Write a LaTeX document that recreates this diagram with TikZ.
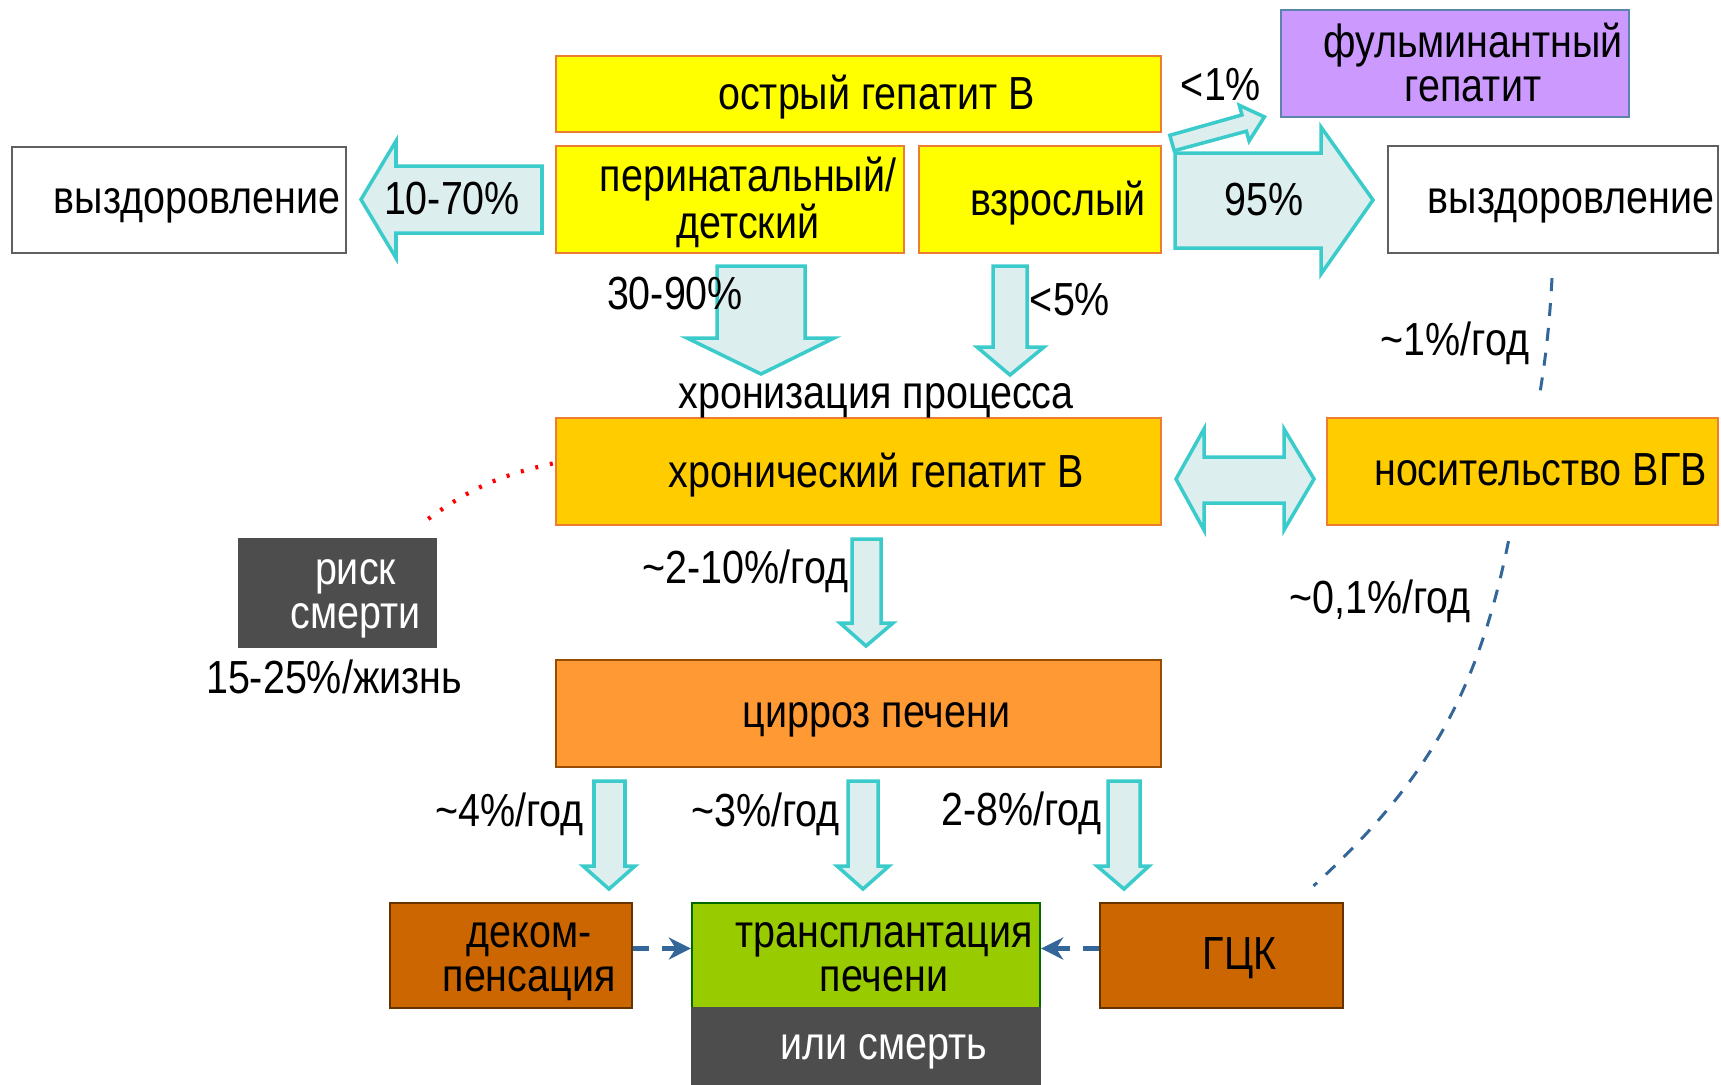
\documentclass[tikz,border=0pt]{standalone}
\usepackage{fontspec}
\setmainfont{Liberation Sans}[FakeStretch=0.85]
\usepackage{xcolor}
\usetikzlibrary{arrows.meta,calc}

\definecolor{acuteyellow}{HTML}{FFFF00}
\definecolor{chronicgold}{HTML}{FFCC00}
\definecolor{cirrhorange}{HTML}{FF9933}
\definecolor{endbrown}{HTML}{CC6600}
\definecolor{livergreen}{HTML}{99CC00}
\definecolor{fulmlilac}{HTML}{CC99FF}
\definecolor{darkbox}{HTML}{4D4D4D}
\definecolor{boxorange}{HTML}{ED7D31}
\definecolor{arrowfill}{HTML}{DCEFEE}
\definecolor{arrowline}{HTML}{3CCBCB}
\definecolor{linkblue}{HTML}{336699}

\newcommand{\boxtext}[1]{\hspace*{0.36cm}\raisebox{-0.05cm}[\height][\depth]{\begin{tabular}{@{}c@{}}#1\end{tabular}}}

\begin{document}
\begin{tikzpicture}[x=0.01cm, y=-0.01cm, font=\fontsize{13.2}{12.5}\selectfont,
    box/.style={draw, line width=0.6pt, inner sep=0pt},
    lbl/.style={inner sep=0pt},
    blockarrow/.style={draw=arrowline, fill=arrowfill, line width=1pt},
    link/.style={draw=linkblue, line width=0.85pt, dash pattern=on 3.7pt off 3.4pt},
    shortlink/.style={draw=linkblue, line width=1.2pt, dash pattern=on 4.5pt off 3.7pt,
        -{Stealth[length=0.22cm, width=0.22cm, inset=0.07cm]}}]
    \useasboundingbox[fill=white] (0,0) rectangle (1721,1084);

    % Acute hepatitis and its forms
    \node[box, fill=acuteyellow, draw=boxorange, minimum width=6.05cm, minimum height=0.76cm] (acute) at (858.5,94) {\boxtext{острый гепатит В}};
    \node[box, fill=acuteyellow, draw=boxorange, minimum width=3.48cm, minimum height=1.07cm] (perinatal) at (730,199.5) {\boxtext{перинатальный/\\детский}};
    \node[box, fill=acuteyellow, draw=boxorange, minimum width=2.42cm, minimum height=1.07cm] (adult) at (1040,199.5) {\boxtext{взрослый}};
    \node[box, fill=white, draw=gray!75!black, minimum width=3.34cm, minimum height=1.06cm] (recovleft) at (179,200) {\boxtext{выздоровление}};
    \node[box, fill=white, draw=gray!75!black, minimum width=3.30cm, minimum height=1.07cm] (recovright) at (1553,199.5) {\boxtext{выздоровление}};
    \node[box, fill=fulmlilac, draw=linkblue!80, minimum width=3.48cm, minimum height=1.07cm] (fulminant) at (1455,63.5) {\boxtext{фульминантный\\гепатит}};

    % Chronic stage
    \node[box, fill=chronicgold, draw=boxorange, minimum width=6.05cm, minimum height=1.07cm] (chronic) at (858.5,471.5) {\boxtext{хронический гепатит В}};
    \node[box, fill=chronicgold, draw=boxorange, minimum width=3.91cm, minimum height=1.07cm] (carrier) at (1522.5,471.5) {\boxtext{носительство ВГВ}};
    \node[box, fill=darkbox, draw=darkbox, text=white, minimum width=1.97cm, minimum height=1.08cm] (risk) at (337.5,593) {\boxtext{риск\\смерти}};
    \node[box, fill=cirrhorange, draw=orange!60!black, minimum width=6.05cm, minimum height=1.07cm] (cirrh) at (858.5,713.5) {\boxtext{цирроз печени}};

    % Outcomes
    \node[box, fill=endbrown, draw=endbrown!50!black, minimum width=2.42cm, minimum height=1.05cm] (decomp) at (511,955.5) {\boxtext{деком-\\пенсация}};
    \node[box, fill=livergreen, draw=green!40!black, minimum width=3.48cm, minimum height=1.05cm] (transpl) at (866,955.5) {\boxtext{трансплантация\\печени}};
    \node[box, fill=darkbox, draw=darkbox, text=white, minimum width=3.48cm, minimum height=0.76cm] (death) at (866,1046) {\boxtext{или смерть}};
    \node[box, fill=endbrown, draw=endbrown!50!black, minimum width=2.43cm, minimum height=1.05cm] (hcc) at (1221.5,955.5) {\boxtext{ГЦК}};

    % Block arrows
    \draw[blockarrow] (542,166) -- (542,233) -- (396,233) -- (396,258) -- (361,199.5) -- (396,141) -- (396,166) -- cycle;
    \draw[blockarrow] (1169.8,135.3) -- (1242,114.9) -- (1239.3,105.3) -- (1264.4,116.9) -- (1249.1,140.9) -- (1246.4,131.2) -- (1174.2,150.7) -- cycle;
    \draw[blockarrow] (1175,153) -- (1321,153) -- (1321,127) -- (1373,200) -- (1321,274) -- (1321,248) -- (1175,248) -- cycle;
    \draw[blockarrow] (717,266) -- (805,266) -- (805,338) -- (834,338) -- (761,374) -- (687,338) -- (717,338) -- cycle;
    \draw[blockarrow] (993,266) -- (1027,266) -- (1027,347) -- (1044,347) -- (1010,375) -- (977,347) -- (993,347) -- cycle;
    \draw[blockarrow] (1176,479) -- (1204,429) -- (1204,457) -- (1284,457) -- (1284,429) -- (1314,479) -- (1284,530) -- (1284,503) -- (1204,503) -- (1204,530) -- cycle;
    \draw[blockarrow] (852,539) -- (881,539) -- (881,623) -- (893,623) -- (866,646) -- (840,623) -- (852,623) -- cycle;
    \draw[blockarrow] (594,781) -- (625,781) -- (625,866) -- (635,866) -- (609,889) -- (583,866) -- (594,866) -- cycle;
    \draw[blockarrow] (848,781) -- (878,781) -- (878,866) -- (889,866) -- (863,889) -- (837,866) -- (848,866) -- cycle;
    \draw[blockarrow] (1108,781) -- (1140,781) -- (1140,866) -- (1149,866) -- (1124,889) -- (1097,866) -- (1108,866) -- cycle;

    % Rates
    \node[lbl] (p1070) at (452,199) {10-70\%};
    \node[lbl] (p1) at (1221,85) {<1\%};
    \node[lbl] (p95) at (1264,200) {95\%};
    \node[lbl] (p3090) at (675,294) {30-90\%};
    \node[lbl] (p5) at (1070,300) {<5\%};
    \node[lbl, anchor=base] (chronization) at (876,408) {хронизация процесса};
    \node[lbl, anchor=base] (p1yr) at (1455,355) {\textasciitilde1\%/год};
    \node[lbl, anchor=base] (p210) at (745.5,583) {\textasciitilde2-10\%/год};
    \node[lbl, anchor=base] (p01) at (1380,613) {\textasciitilde0,1\%/год};
    \node[lbl, anchor=base] (life) at (334,693) {15-25\%/жизнь};
    \node[lbl, anchor=base] (p4) at (509.5,826) {\textasciitilde4\%/год};
    \node[lbl, anchor=base] (p3) at (765.5,826) {\textasciitilde3\%/год};
    \node[lbl, anchor=base] (p28) at (1021.5,825) {2-8\%/год};

    % Dashed and dotted links
    \draw[link] ($(recovright.south)+(-1,24)$) to[bend left=3] ($(carrier.north)+(16,-15)$);
    \draw[link] ($(carrier.south)+(-14,15)$) to[bend left=18] ($(hcc.north)+(92,-16)$);
    \draw[red, line width=1.2pt, dash pattern=on 0.85pt off 3.4pt] ($(chronic.west)+(-2,-8)$) to[bend right=12] ($(risk.north east)+(-13,-16)$);
    \draw[shortlink] ($(decomp.east)+(0,-7)$) -- ($(transpl.west)+(0,-7)$);
    \draw[shortlink] ($(hcc.west)+(0,-7)$) -- ($(transpl.east)+(0,-7)$);
\end{tikzpicture}
\end{document}
